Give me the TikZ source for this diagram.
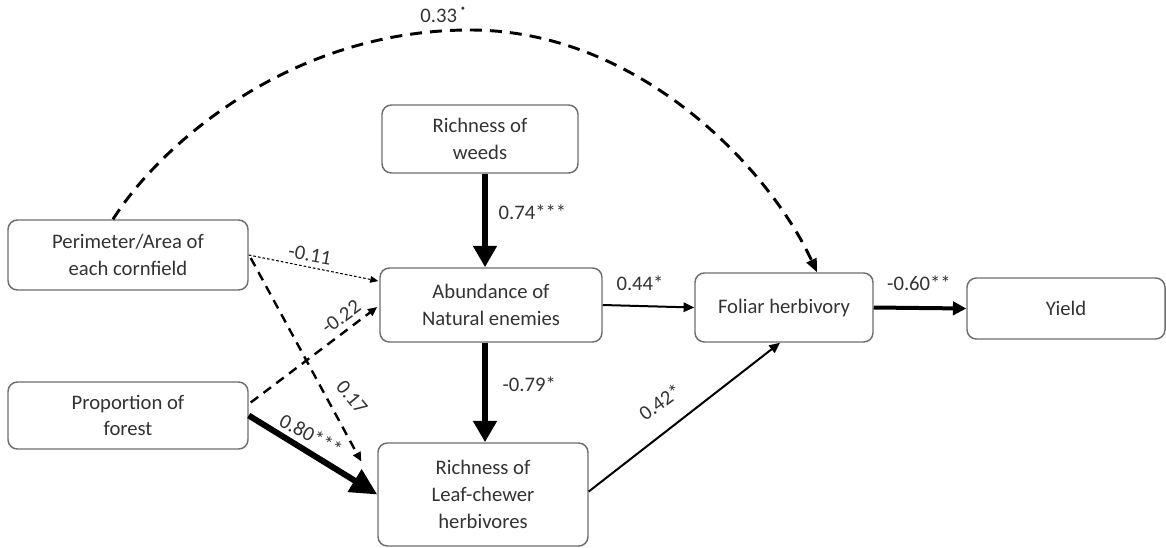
\documentclass[tikz,border=0pt]{standalone}
\usepackage{fontspec}
\setmainfont{Carlito}
\usetikzlibrary{arrows.meta,calc}
\definecolor{txt}{HTML}{333333}
\definecolor{bord}{HTML}{6E6E6E}
\begin{document}
\begin{tikzpicture}[x=0.75pt,y=-0.75pt,
  box/.style={draw=bord,line width=1.1pt,rounded corners=7pt,align=center,
    text=txt,font=\fontsize{15.5}{20}\selectfont,inner sep=0pt},
  lbl/.style={text=txt,font=\fontsize{15.5}{18}\selectfont,inner sep=1pt},
  thinarr/.style={line width=1.5pt,-{Triangle[length=8pt,width=7pt]}},
  thickarr/.style={line width=4.5pt,-{Triangle[length=16pt,width=17pt]}},
  medarr/.style={line width=3pt,-{Triangle[length=10pt,width=10pt]}},
  dasharr/.style={line width=1.8pt,dash pattern=on 7pt off 5pt,-{Triangle[length=7pt,width=6pt]}},
  dotarr/.style={line width=0.8pt,dash pattern=on 2pt off 1.5pt,-{Triangle[length=6pt,width=5pt]}},
  curvearr/.style={line width=2.2pt,dash pattern=on 9pt off 6pt,-{Triangle[length=10pt,width=8pt]}}]
\useasboundingbox (0,0) rectangle (1166,547);
\fill[white] (0,0) rectangle (1166,547);

\node[box,minimum width=180pt,minimum height=52.5pt] (perim) at (128,255) {Perimeter/Area of\\each cornfield};
\node[box,minimum width=180pt,minimum height=50.25pt] (forest) at (128,415.5) {Proportion of\\forest};
\node[box,minimum width=147pt,minimum height=51pt] (weeds) at (480,139) {Richness of\\weeds};
\node[box,minimum width=166.5pt,minimum height=55.5pt] (abund) at (491,305) {Abundance of\\Natural enemies};
\node[box,minimum width=157.5pt,minimum height=77.25pt] (leaf) at (483,494.5) {Richness of\\Leaf-chewer\\herbivores};
\node[box,minimum width=133.5pt,minimum height=51.75pt] (foliar) at (784,307.5) {Foliar herbivory};
\node[box,minimum width=148.5pt,minimum height=45.75pt] (yield) at (1066,308.5) {Yield};

\coordinate (vx) at (485,0);

% weeds -> abundance
\draw[thickarr] (weeds.south -| vx) -- (abund.north -| vx);
\node[lbl,anchor=west] (l074) at (497,212) {0.74***};
% abundance -> leaf
\draw[thickarr] (abund.south -| vx) -- (leaf.north -| vx);
\node[lbl,anchor=west] (l079) at (501,384) {-0.79*};
% abundance -> foliar
\draw[thinarr] (abund.east) -- (foliar.west);
\node[lbl] (l044) at (640,283) {0.44*};
% foliar -> yield
\draw[medarr] (foliar.east) -- (yield.west);
\node[lbl] (l060) at (919,283) {-0.60**};
% leaf -> foliar
\draw[thinarr] ($(leaf.east)+(0,-3)$) -- ($(foliar.south)+(-4,0)$);
\node[lbl,rotate=36] (l042) at (660,402) {0.42*};
% perim -> abund dotted
\draw[dotarr] (perim.east) -- ($(abund.west)+(-1,-24)$);
\node[lbl,rotate=-10] (l011) at (310,255) {-0.11};
% perim -> leaf dashed
\draw[dasharr] ($(perim.east)+(2,3)$) -- ($(leaf.west)+(-16,-33)$);
\node[lbl,rotate=-50] (l017) at (352,397) {0.17};
% forest -> abund dashed
\draw[dasharr] ($(forest.east)+(2,-13)$) -- ($(abund.west)+(-2,2)$);
\node[lbl,rotate=36] (l022) at (341,317) {-0.22};
% forest -> leaf thick
\draw[line width=4.5pt,-{Triangle[length=20pt,width=19pt]}] (forest.east) -- (leaf.west);
\node[lbl,rotate=-28] (l080) at (311,435) {0.80***};
% perim -> foliar curve
\draw[curvearr] ($(perim.north)+(-15,0)$) .. controls (160,145) and (290,30) .. (470,30)
   .. controls (640,30) and (770,170) .. ($(foliar.north)+(33,0)$);
\node[lbl] (l033) at (443,15) {0.33\,\raisebox{0.9ex}{·}};
\end{tikzpicture}
\end{document}
